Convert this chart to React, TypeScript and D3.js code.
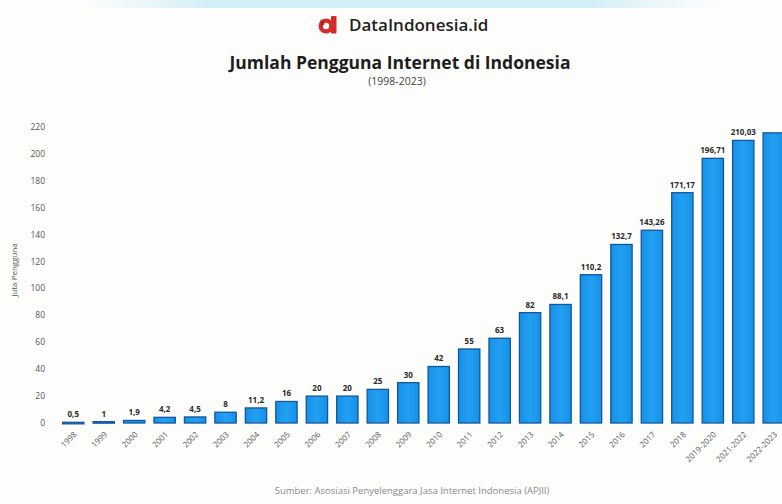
import React from "react";
import * as d3 from "d3";

const categories = [
  "1998", "1999", "2000", "2001", "2002", "2003", "2004", "2005", "2006", "2007",
  "2008", "2009", "2010", "2011", "2012", "2013", "2014", "2015", "2016", "2017",
  "2018", "2019-2020", "2021-2022", "2022-2023",
];
const values = [
  0.5, 1, 1.9, 4.2, 4.5, 8, 11.2, 16, 20, 20,
  25, 30, 42, 55, 63, 82, 88.1, 110.2, 132.7, 143.26,
  171.17, 196.71, 210.03, 215.63,
];
const yTicks = [0, 20, 40, 60, 80, 100, 120, 140, 160, 180, 200, 220];

const W = 782;
const H = 504;
const FONT = "'Open Sans', 'Liberation Sans', sans-serif";

export default function App() {
  const x = d3.scaleBand<string>().domain(categories).range([55, 792]).paddingInner(0.3).paddingOuter(0.25);
  const y = d3.scaleLinear().domain([0, 220]).range([423, 127]);
  const fmt = (v: number) => String(v).replace(".", ",");

  return (
    <svg width={W} height={H} style={{ position: "absolute", left: 0, top: 0, display: "block", background: "#fdfdfc" }}>
      <defs>
        <linearGradient id="topband" x1="0" x2="1" y1="0" y2="0">
          <stop offset="0" stopColor="#d9f1f6" stopOpacity={0} />
          <stop offset="0.2" stopColor="#cdeef5" stopOpacity={0.9} />
          <stop offset="0.8" stopColor="#cdeef5" stopOpacity={0.9} />
          <stop offset="1" stopColor="#d9f1f6" stopOpacity={0} />
        </linearGradient>
        <linearGradient id="barfill" x1="0" x2="1" y1="0" y2="0">
          <stop offset="0" stopColor="#1690e6" />
          <stop offset="0.5" stopColor="#22a0f2" />
          <stop offset="1" stopColor="#1690e6" />
        </linearGradient>
      </defs>
      <rect x={80} y={0} width={640} height={8} fill="url(#topband)" />

      {/* logo: stylised "d" */}
      <g transform="translate(318,16)">
        <circle cx={8} cy={10} r={7.5} fill="#d42a2a" />
        <circle cx={8} cy={10} r={3.2} fill="#fdfdfc" />
        <rect x={13} y={0} width={5.5} height={17.5} rx={1} fill="#d42a2a" />
        <path d="M2,3 L7,8 L4,11 Z" fill="#8e1010" opacity={0.6} />
      </g>
      <text x={349} y={31} fontFamily={FONT} fontWeight={600} fontSize={17} fill="#1f1f1f">DataIndonesia.id</text>
      <text x={400} y={69} textAnchor="middle" fontFamily={FONT} fontWeight={700} fontSize={17.5} fill="#1d1d1d">
        Jumlah Pengguna Internet di Indonesia
      </text>
      <text x={397} y={85} textAnchor="middle" fontFamily={FONT} fontSize={10.5} fill="#444">(1998-2023)</text>

      {/* y axis */}
      {yTicks.map((t) => (
        <text key={t} x={45} y={y(t) + 3} textAnchor="end" fontFamily={FONT} fontSize={8.5} fill="#555">
          {t}
        </text>
      ))}
      <text
        transform={`translate(17,270) rotate(-90)`}
        textAnchor="middle"
        fontFamily={FONT}
        fontSize={8}
        fill="#555"
      >
        Juta Pengguna
      </text>

      {/* bars */}
      {categories.map((c, i) => {
        const bx = x(c)!;
        const bw = x.bandwidth();
        const top = y(values[i]);
        const last = i === categories.length - 1;
        return (
          <g key={c}>
            <rect
              x={bx}
              y={top}
              width={bw}
              height={Math.max(1.5, y(0) - top)}
              fill="url(#barfill)"
              stroke="#12569f"
              strokeWidth={1.3}
            />
            {!last && (
              <text
                x={bx + bw / 2}
                y={top - 5}
                textAnchor="middle"
                fontFamily={FONT}
                fontWeight={700}
                fontSize={8}
                fill="#2a2a2a"
              >
                {fmt(values[i])}
              </text>
            )}
            <text
              transform={`translate(${bx + bw / 2 + 4},${435}) rotate(-45)`}
              textAnchor="end"
              fontFamily={FONT}
              fontSize={8}
              fill="#5a5a5a"
            >
              {c}
            </text>
          </g>
        );
      })}

      <text x={412} y={494} textAnchor="middle" fontFamily={FONT} fontSize={9.5} fill="#8a8a8a">
        Sumber: Asosiasi Penyelenggara Jasa Internet Indonesia (APJII)
      </text>
    </svg>
  );
}
